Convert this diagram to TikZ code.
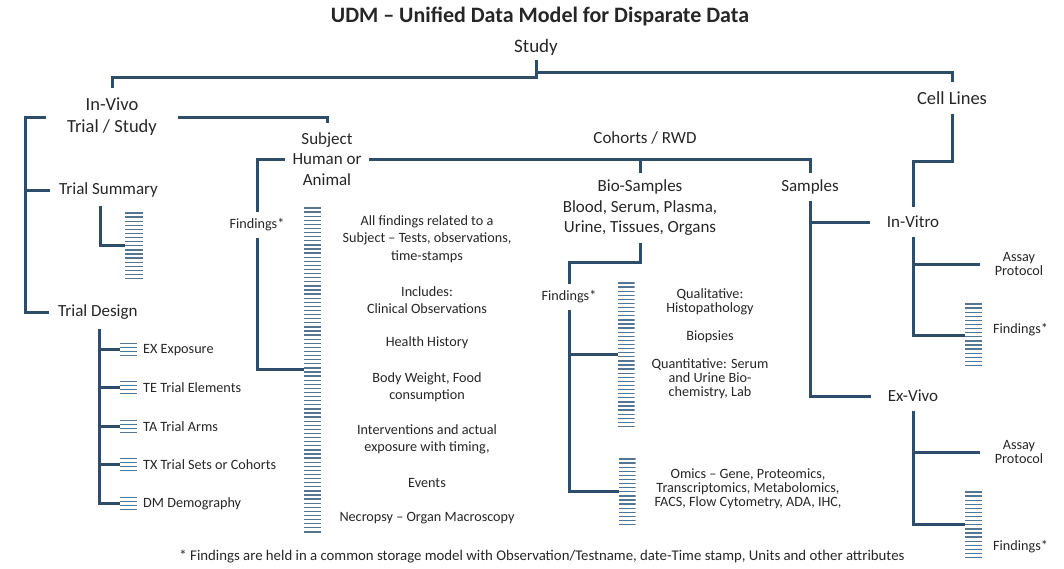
\documentclass[tikz,border=0pt]{standalone}
\usepackage{fontspec}
\setmainfont{Carlito}
\definecolor{udmblue}{HTML}{2E4D6B}
\definecolor{udmstripe}{HTML}{587590}
\definecolor{udmtext}{HTML}{262626}
\tikzset{
  link/.style={draw=udmblue,line width=3pt},
  big/.style={font=\fontsize{18.5}{22}\selectfont,align=center,text=udmtext},
  mid/.style={font=\fontsize{17}{20.5}\selectfont,align=center,text=udmtext},
  small/.style={font=\fontsize{14.2}{17.5}\selectfont,align=center,text=udmtext},
  tight/.style={font=\fontsize{14.2}{14}\selectfont,align=center,text=udmtext},
  tablebar/.style={minimum width=17pt,inner sep=0pt,outer sep=0pt,
    path picture={\foreach \k in {0,...,80}
      \draw[udmstripe,line width=1.3pt]
        ([yshift=-1pt-4.1pt*\k]path picture bounding box.north west) --
        ([yshift=-1pt-4.1pt*\k]path picture bounding box.north east);}},
}
\begin{document}
\begin{tikzpicture}[x=1pt,y=-1pt]
  \useasboundingbox (0,0) rectangle (1064,568);

  \node[font=\fontsize{22}{26}\selectfont\bfseries,text=udmtext] (title) at (540,16) {UDM – Unified Data Model for Disparate Data};

  % main branches
  \node[big,font=\fontsize{19}{22}\selectfont,inner sep=5pt] (study) at (536,47) {Study};
  \node[big,inner xsep=21pt,inner ysep=10pt] (invivo) at (112,117) {In-Vivo\\Trial / Study};
  \node[big,inner sep=9.5pt] (celllines) at (952,98) {Cell Lines};

  \node[mid,anchor=west,inner sep=9pt] (trialsum) at (50,190) {Trial Summary};
  \node[mid,anchor=west,inner sep=9pt] (trialdesign) at (49,312) {Trial Design};
  \node[mid,inner xsep=7.5pt,inner ysep=9.5pt] (subject) at (327,159) {Subject\\Human or\\Animal};
  \node[mid] (cohorts) at (645,138) {Cohorts / RWD};
  \node[mid,inner sep=7pt] (biosamples) at (640,208) {Bio-Samples\\Blood, Serum, Plasma,\\Urine, Tissues, Organs};
  \node[mid,inner sep=7pt] (samples) at (810,187) {Samples};
  \node[mid,inner xsep=17pt,inner ysep=9pt] (invitro) at (913,222) {In-Vitro};
  \node[mid,inner xsep=17pt,inner ysep=9pt] (exvivo) at (913,396) {Ex-Vivo};
  \node[tight,inner xsep=15pt] (assay1) at (1019,264) {Assay\\Protocol};
  \node[tight,inner xsep=15pt] (assay2) at (1019,452) {Assay\\Protocol};

  \node[small,inner sep=6.5pt] (findsubj) at (257,225) {Findings*};
  \node[small,inner sep=6.5pt] (findbio) at (569,297) {Findings*};
  \node[small,anchor=west,inner sep=0pt] (findvitro) at (993,330) {Findings*};
  \node[small,anchor=west,inner sep=0pt] (findvivo) at (993,547) {Findings*};

  % table stacks
  \node[tablebar,minimum width=18pt,minimum height=66pt] (tsstack) at (134,245) {};
  \node[tablebar,minimum height=325pt] (subjstack) at (312.5,369.5) {};
  \node[tablebar,minimum height=145pt] (biostack1) at (626,354.5) {};
  \node[tablebar,minimum height=66pt] (biostack2) at (627,491) {};
  \node[tablebar,minimum height=65pt] (vitrostack) at (973.5,335.5) {};
  \node[tablebar,minimum height=66pt] (vivostack) at (973.5,524) {};

  \foreach \y/\nm/\txt in {350/ex/EX Exposure,388/te/TE Trial Elements,427/ta/TA Trial Arms,
      465/tx/TX Trial Sets or Cohorts,504/dm/DM Demography}{
    \node[tablebar,minimum height=14pt] (\nm) at (128.5,\y-0.5) {};
    \node[small,anchor=west,inner sep=0pt] (\nm-label) at (143,\y) {\txt};
  }

  % notes
  \foreach \y/\txt [count=\i] in {239/{All findings related to a\\Subject – Tests, observations,\\time-stamps},
      300/{Includes:\\Clinical Observations},343/{Health History},387/{Body Weight, Food\\consumption},
      439.5/{Interventions and actual\\exposure with timing,},483/{Events},518/{Necropsy – Organ Macroscopy}}
    \node[small] (subjnote\i) at (427,\y) {\txt};
  \node[tight] (qual) at (710,302) {Qualitative:\\Histopathology};
  \node[tight] (biopsies) at (710,337) {Biopsies};
  \node[tight] (quant) at (710,379) {Quantitative: Serum\\and Urine Bio-\\chemistry, Lab};
  \node[tight] (omics) at (748,488.5) {Omics – Gene, Proteomics,\\Transcriptomics, Metabolomics,\\FACS, Flow Cytometry, ADA, IHC,};

  \node[small,font=\fontsize{14.8}{17}\selectfont] (footnote) at (542,557) {* Findings are held in a common storage model with Observation/Testname, date-Time stamp, Units and other attributes};

  % connectors
  \coordinate (topL) at (537,77);
  \coordinate (topR) at (537,72);
  \draw[link] (study.south) -- (study.south |- topL) -| (invivo.north);
  \draw[link] (study.south |- topR) -| (celllines.north);

  \coordinate (ivtrunk) at ([xshift=-20pt]invivo.west);
  \draw[link] (invivo.west) -- (ivtrunk) |- (trialdesign.west);
  \draw[link] (ivtrunk |- trialsum.west) -- (trialsum.west);
  \coordinate (tstrunk) at ([xshift=-8pt]trialsum.south);
  \draw[link] (tstrunk) |- (tsstack.west);
  \coordinate (tdtrunk) at ([xshift=2pt]trialdesign.south);
  \draw[link] (tdtrunk) |- (dm.west);
  \foreach \nm in {ex,te,ta,tx}
    \draw[link] (tdtrunk |- \nm.west) -- (\nm.west);

  \draw[link] (invivo.east) -| (subject.north);
  \draw[link] (subject.west) -| (findsubj.north);
  \draw[link] (findsubj.south) |- (subjstack.west);
  \draw[link] (subject.east) -| (samples.north);
  \draw[link] (biosamples.north |- subject.east) -- (biosamples.north);
  \draw[link] (biosamples.south) -- ++(0,19) -| (findbio.north);
  \draw[link] (findbio.south) |- (biostack2.west);
  \draw[link] (findbio.south |- biostack1.west) -- (biostack1.west);

  \draw[link] (samples.south) |- (exvivo.west);
  \draw[link] (samples.south |- invitro.west) -- (invitro.west);
  \draw[link] (celllines.south) -- ++(0,47) -| (invitro.north);
  \draw[link] (invitro.south) |- (vitrostack.west);
  \draw[link] (invitro.south |- assay1.west) -- (assay1.west);
  \draw[link] (exvivo.south) |- (vivostack.west);
  \draw[link] (exvivo.south |- assay2.west) -- (assay2.west);
\end{tikzpicture}
\end{document}
